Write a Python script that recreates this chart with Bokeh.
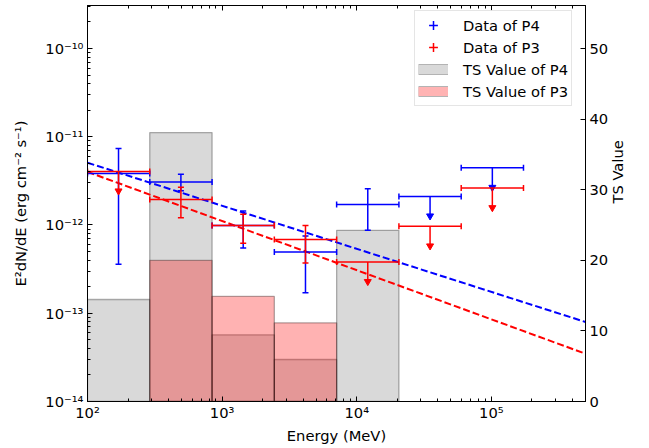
import numpy as np
from bokeh.plotting import figure
from bokeh.models import (Range1d, LinearScale, LinearAxis, LogAxis, FixedTicker,
                          CustomJSTickFormatter, Legend, LegendItem)
from bokeh.embed import file_html
from bokeh.resources import INLINE

# ---------------- data ----------------
bin_edges = [100, 290, 842, 2442, 7087, 20563, 59665, 173123]
bin_centers = [170, 494, 1434, 4160, 12072, 35030, 101640]

p4_flux = [3.84e-12, 3.07e-12, 9.9e-13, 4.93e-13, 1.71e-12, 2.11e-12, 4.45e-12]
p4_low = [3.58e-13, 2.45e-12, 5.47e-13, 1.71e-13, 8.7e-13, None, None]
p4_high = [7.38e-12, 3.75e-12, 1.44e-12, 7.5e-13, 2.58e-12, None, None]
p4_is_ul = [False, False, False, False, False, True, True]

p3_flux = [4.05e-12, 1.95e-12, 9.9e-13, 6.83e-13, 3.81e-13, 9.65e-13, 2.62e-12]
p3_low = [None, 1.21e-12, 6.23e-13, 3.71e-13, None, None, None]
p3_high = [None, 2.67e-12, 1.32e-12, 9.9e-13, None, None, None]
p3_is_ul = [True, False, False, False, True, True, True]

ts_p4 = [14.45, 38.1, 9.45, 5.95, 24.25, None, None]
ts_p3 = [None, 20.0, 14.9, 11.15, None, None, None]

model_energy = [100, 5e5]
p4_model = [5.08e-12, 7.96e-14]
p3_model = [4.0e-12, 3.48e-14]

x_tick_values = [1e2, 1e3, 1e4, 1e5]
x_tick_labels = ["10\u00b2", "10\u00b3", "10\u2074", "10\u2075"]
y_tick_values = [1e-14, 1e-13, 1e-12, 1e-11, 1e-10]
y_tick_labels = ["10\u207b\u00b9\u2074", "10\u207b\u00b9\u00b3", "10\u207b\u00b9\u00b2",
                 "10\u207b\u00b9\u00b9", "10\u207b\u00b9\u2070"]
ts_ticks = [0, 10, 20, 30, 40, 50]

FONT = "DejaVu Sans"
FS = "14.7px"
UL_FACTOR = 0.6
NAN = float("nan")

# ---------------- figure ----------------
p = figure(width=649, height=448, x_axis_type="log", y_axis_type="log",
           x_range=Range1d(100, 5e5), y_range=Range1d(1e-14, 3.07e-10),
           output_backend="svg", toolbar_location=None,
           min_border_left=87, min_border_right=64, min_border_top=5, min_border_bottom=47,
           x_axis_label="Energy (MeV)",
           y_axis_label="E\u00b2dN/dE (erg cm\u207b\u00b2 s\u207b\u00b9)")
p.extra_y_ranges = {"ts": Range1d(0, 56.1)}
p.extra_y_scales = {"ts": LinearScale()}
p.xgrid.visible = False
p.ygrid.visible = False
p.outline_line_color = "black"
p.outline_line_alpha = 1.0
p.background_fill_color = "white"
p.border_fill_color = "white"

fmt_code = """
const lt = Math.log10(tick);
for (let i = 0; i < vals.length; i++) {
  if (Math.abs(Math.log10(vals[i]) - lt) < 1e-6) { return labels[i]; }
}
return "";
"""
x_minor = [m * 10.0 ** e for e in range(2, 6) for m in range(2, 10)]
y_minor = [m * 10.0 ** e for e in range(-14, -9) for m in range(2, 10)]
x_ticker = FixedTicker(ticks=x_tick_values, minor_ticks=x_minor)
y_ticker = FixedTicker(ticks=y_tick_values, minor_ticks=y_minor)
x_fmt = CustomJSTickFormatter(args=dict(vals=x_tick_values, labels=x_tick_labels), code=fmt_code)
y_fmt = CustomJSTickFormatter(args=dict(vals=y_tick_values, labels=y_tick_labels), code=fmt_code)
blank_fmt = CustomJSTickFormatter(code='return "";')

xax = p.xaxis[0]
yax = p.yaxis[0]
xax.ticker = x_ticker
xax.formatter = x_fmt
yax.ticker = y_ticker
yax.formatter = y_fmt

top_ax = LogAxis(ticker=x_ticker, formatter=blank_fmt, major_label_standoff=0)
p.add_layout(top_ax, "above")

right_ax = LinearAxis(y_range_name="ts", axis_label="TS Value",
                      ticker=FixedTicker(ticks=ts_ticks))
p.add_layout(right_ax, "right")

for ax in [xax, yax, top_ax, right_ax]:
    ax.major_tick_in = 5
    ax.major_tick_out = 0
    ax.minor_tick_in = 3
    ax.minor_tick_out = 0
    ax.axis_line_color = "black"
    ax.major_tick_line_color = "black"
    ax.minor_tick_line_color = "black"
    ax.major_label_text_font = FONT
    ax.major_label_text_color = "black"
    ax.axis_label_text_font = FONT
    ax.axis_label_text_font_size = FS
    ax.axis_label_text_font_style = "normal"
    ax.axis_label_text_color = "black"
for ax in [xax, yax, right_ax]:
    ax.major_label_text_font_size = FS
xax.major_label_standoff = 2
xax.axis_label_standoff = 3
yax.major_label_standoff = 4
yax.axis_label_standoff = 13
right_ax.major_label_standoff = 4
right_ax.axis_label_standoff = 6
right_ax.minor_tick_in = 0
if "axis_label_orientation" in right_ax.properties():
    right_ax.axis_label_orientation = np.pi / 2

# ---------------- TS bars ----------------
def bars(ts, color):
    idx = [i for i in range(len(ts)) if ts[i] is not None]
    p.quad(left=[bin_edges[i] for i in idx], right=[bin_edges[i + 1] for i in idx],
           bottom=[0] * len(idx), top=[ts[i] for i in idx], y_range_name="ts",
           fill_color=color, fill_alpha=0.3, line_color="black", line_alpha=0.3,
           line_width=1.3)

bars(ts_p4, "gray")
bars(ts_p3, "red")

# ---------------- model lines ----------------
p.line(model_energy, p4_model, line_color="blue", line_width=2, line_dash="7 3")
p.line(model_energy, p3_model, line_color="red", line_width=2, line_dash="7 3")

# ---------------- error bars ----------------
def errorbars(color, flux, low, high, is_ul):
    n = len(flux)
    xl = bin_edges[:-1]
    xr = bin_edges[1:]
    p.segment(x0=xl, y0=flux, x1=xr, y1=flux, line_color=color, line_width=1.5)
    p.scatter(x=list(xl) + list(xr), y=list(flux) + list(flux), marker="dash",
              angle=np.pi / 2, size=6, line_color=color, line_width=1.5)
    det = [i for i in range(n) if not is_ul[i]]
    if det:
        p.segment(x0=[bin_centers[i] for i in det], y0=[low[i] for i in det],
                  x1=[bin_centers[i] for i in det], y1=[high[i] for i in det],
                  line_color=color, line_width=1.5)
        p.scatter(x=[bin_centers[i] for i in det] * 2,
                  y=[low[i] for i in det] + [high[i] for i in det],
                  marker="dash", size=6, line_color=color, line_width=1.5)
    ul = [i for i in range(n) if is_ul[i]]
    if ul:
        p.segment(x0=[bin_centers[i] for i in ul], y0=[flux[i] for i in ul],
                  x1=[bin_centers[i] for i in ul], y1=[flux[i] * UL_FACTOR for i in ul],
                  line_color=color, line_width=1.5)
        p.scatter(x=[bin_centers[i] for i in ul], y=[flux[i] * UL_FACTOR for i in ul],
                  marker="inverted_triangle", size=7, fill_color=color, line_color=color)

errorbars("blue", p4_flux, p4_low, p4_high, p4_is_ul)
errorbars("red", p3_flux, p3_low, p3_high, p3_is_ul)

# ---------------- legend (proxy renderers, nothing drawn in the plot) ----------------
leg_p4 = p.scatter(x=[NAN], y=[NAN], marker="cross", size=12, line_color="blue", line_width=1.5)
leg_p3 = p.scatter(x=[NAN], y=[NAN], marker="cross", size=12, line_color="red", line_width=1.5)
leg_t4e = p.line(x=[NAN, NAN], y=[NAN, NAN], line_color="#b3b3b3", line_width=11)
leg_t4f = p.line(x=[NAN, NAN], y=[NAN, NAN], line_color="#d9d9d9", line_width=9)
leg_t3e = p.line(x=[NAN, NAN], y=[NAN, NAN], line_color="#b3b3b3", line_width=11)
leg_t3f = p.line(x=[NAN, NAN], y=[NAN, NAN], line_color="#ffb3b3", line_width=9)

legend = Legend(items=[
    LegendItem(label="Data of P4", renderers=[leg_p4]),
    LegendItem(label="Data of P3", renderers=[leg_p3]),
    LegendItem(label="TS Value of P4", renderers=[leg_t4e, leg_t4f]),
    LegendItem(label="TS Value of P3", renderers=[leg_t3e, leg_t3f]),
], location=(327, 295))
legend.glyph_width = 30
legend.glyph_height = 22
legend.label_height = 20
legend.label_width = 20
legend.label_standoff = 15
legend.padding = 3
legend.spacing = 0
legend.margin = 0
legend.border_line_color = "#cccccc"
legend.border_line_width = 1
legend.background_fill_color = "white"
legend.background_fill_alpha = 0.8
legend.label_text_font = FONT
legend.label_text_font_size = FS
legend.label_text_color = "black"
p.add_layout(legend)

open("out.html", "w").write(file_html(p, INLINE))
